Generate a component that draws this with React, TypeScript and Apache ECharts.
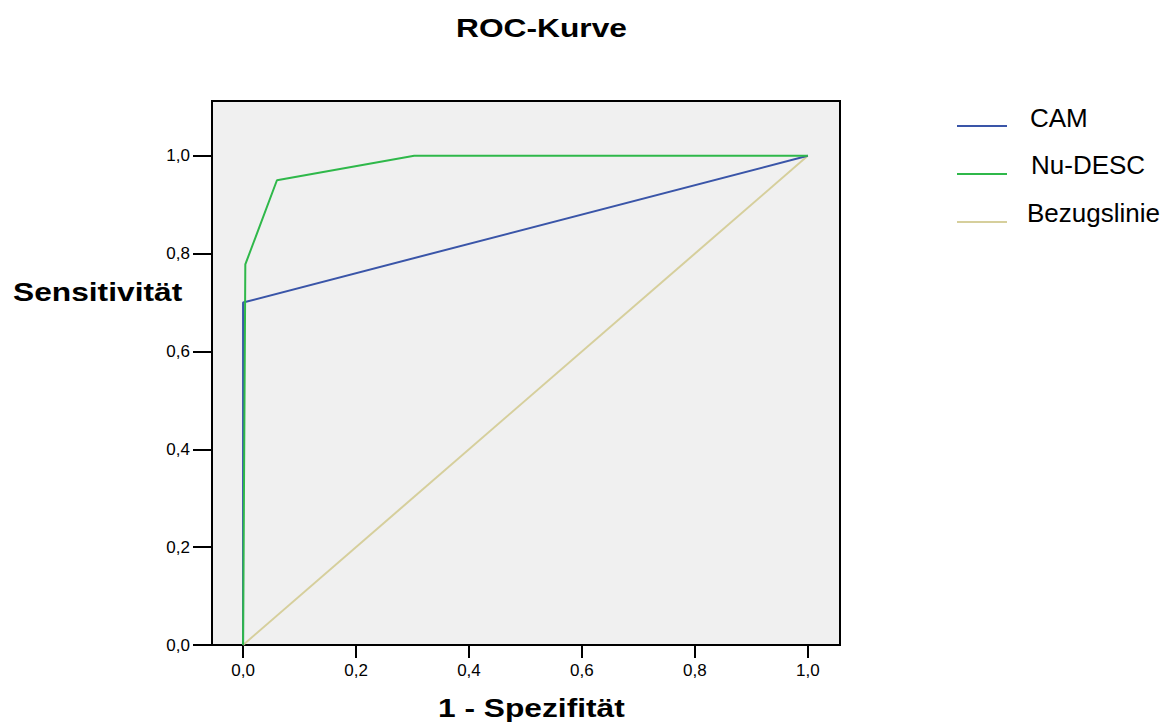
import React, { useEffect, useRef } from "react";
import * as echarts from "echarts";

const tickValues = [0, 0.2, 0.4, 0.6, 0.8, 1.0];
const camPoints: [number, number][] = [
  [0, 0],
  [0, 0.70],
  [1, 1],
];
const nuDescPoints: [number, number][] = [
  [0, 0],
  [0.004, 0.778],
  [0.06, 0.95],
  [0.303, 1.0],
  [1, 1],
];
const referencePoints: [number, number][] = [
  [0, 0],
  [1, 1],
];
const seriesNames = ["CAM", "Nu-DESC", "Bezugslinie"];
const seriesColors = ["#3a55a8", "#2fb84a", "#d6cf9c"];

const FONT = "'Liberation Sans', Arial, Helvetica, sans-serif";

export default function App() {
  const ref = useRef<HTMLDivElement>(null);
  useEffect(() => {
    if (!ref.current) return;
    const chart = echarts.init(ref.current, undefined, { renderer: "svg" });
    const fmt = (v: number) => v.toFixed(1).replace(".", ",");
    const legendY = [126, 174, 222];
    const legendTextY = [117.5, 164.5, 213];
    const legendTextX = [1030, 1031, 1027];
    const graphics: any[] = [
      {
        type: "text",
        x: 456,
        y: 28,
        scaleX: 1.22,
        style: { text: "ROC-Kurve", font: `bold 26px ${FONT}`, fill: "#000", textAlign: "left", textVerticalAlign: "middle" },
      },
      {
        type: "text",
        x: 13,
        y: 292,
        scaleX: 1.22,
        style: { text: "Sensitivität", font: `bold 26px ${FONT}`, fill: "#000", textAlign: "left", textVerticalAlign: "middle" },
      },
      {
        type: "text",
        x: 438,
        y: 708,
        scaleX: 1.22,
        style: { text: "1 - Spezifität", font: `bold 26px ${FONT}`, fill: "#000", textAlign: "left", textVerticalAlign: "middle" },
      },
    ];
    seriesNames.forEach((name, i) => {
      graphics.push({
        type: "line",
        shape: { x1: 957, y1: legendY[i], x2: 1007, y2: legendY[i] },
        style: { stroke: seriesColors[i], lineWidth: 2 },
      });
      graphics.push({
        type: "text",
        x: legendTextX[i],
        y: legendTextY[i],
        style: { text: name, font: `26px ${FONT}`, fill: "#000", textAlign: "left", textVerticalAlign: "middle" },
      });
    });

    chart.setOption({
      animation: false,
      backgroundColor: "#ffffff",
      textStyle: { fontFamily: FONT },
      grid: {
        left: 212,
        top: 101,
        right: 328,
        bottom: 79,
        show: true,
        backgroundColor: "#f0f0f0",
        borderColor: "#000",
        borderWidth: 2,
        containLabel: false,
      },
      xAxis: {
        type: "value",
        min: -0.055,
        max: 1.057,
        splitLine: { show: false },
        axisLine: { show: false, onZero: false },
        axisTick: { show: true, length: 13, customValues: tickValues, lineStyle: { color: "#000", width: 2 } },
        axisLabel: {
          customValues: tickValues,
          formatter: fmt,
          color: "#000",
          fontSize: 17,
          fontFamily: FONT,
          margin: 17,
        },
      },
      yAxis: {
        type: "value",
        min: 0,
        max: 1.112,
        splitLine: { show: false },
        axisLine: { show: false, onZero: false },
        axisTick: { show: true, length: 19, customValues: tickValues, lineStyle: { color: "#000", width: 2 } },
        axisLabel: {
          customValues: tickValues,
          formatter: fmt,
          color: "#000",
          fontSize: 17,
          fontFamily: FONT,
          margin: 22,
          padding: [6, 0, 0, 0],
        },
      },
      series: [
        {
          name: seriesNames[2],
          type: "line",
          data: referencePoints,
          symbol: "none",
          lineStyle: { color: seriesColors[2], width: 2 },
        },
        {
          name: seriesNames[0],
          type: "line",
          data: camPoints,
          symbol: "none",
          lineStyle: { color: seriesColors[0], width: 2 },
        },
        {
          name: seriesNames[1],
          type: "line",
          data: nuDescPoints,
          symbol: "none",
          lineStyle: { color: seriesColors[1], width: 2 },
        },
      ],
      graphic: graphics,
    });
    return () => chart.dispose();
  }, []);
  return (
    <div
      ref={ref}
      style={{ position: "absolute", left: 0, top: 0, width: 1168, height: 724, background: "#fff" }}
    />
  );
}
